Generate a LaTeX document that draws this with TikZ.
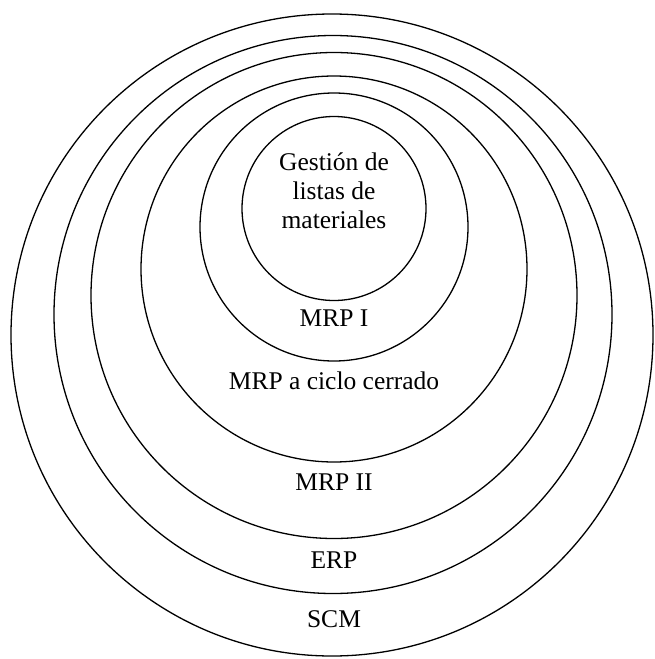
\documentclass[tikz,border=0pt]{standalone}
\usepackage{fontspec}
\setmainfont{Liberation Serif}
\usetikzlibrary{positioning}
\begin{document}
\begin{tikzpicture}[x=1pt,y=-1pt,
  ring/.style={line width=1.3pt},
  lbl/.style={font=\fontsize{25.5}{29}\selectfont,align=center,inner sep=0pt}]
\useasboundingbox (0,0) rectangle (655,659);
%rings
\draw[ring](332,335)circle(321);
\draw[ring](333,314.5)circle(279);
\draw[ring](334,295.5)circle(243);
\draw[ring](334,269)circle(193);
\draw[ring](334,227)circle(134);
\draw[ring](334,208.5)circle(92);
%labels
\node[lbl](gestion)at(334,191){Gestión de\\listas de\\materiales};
\node[lbl](mrpone)at(334,318){MRP I};
\node[lbl](mrpcc)at(334,381){MRP a ciclo cerrado};
\node[lbl](mrptwo)at(334,482){MRP II};
\node[lbl](erp)at(334,560){ERP};
\node[lbl](scm)at(334,619){SCM};
\end{tikzpicture}
\end{document}
